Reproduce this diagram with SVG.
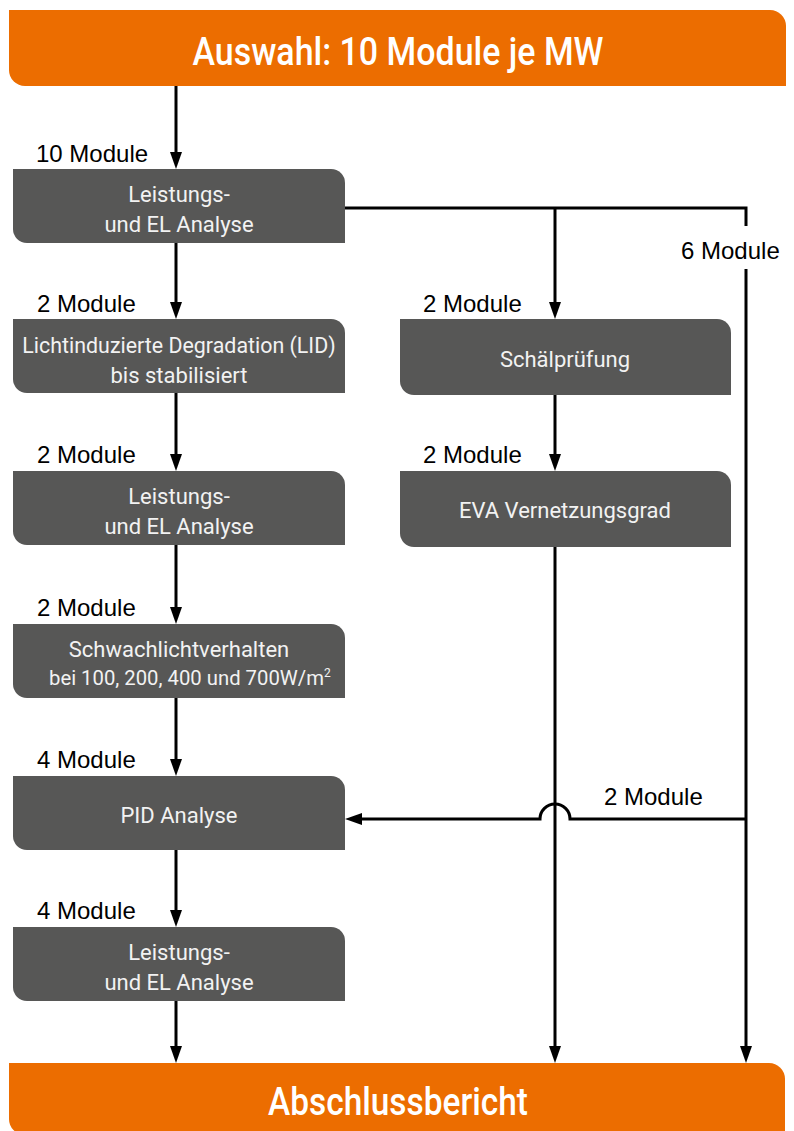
<svg xmlns="http://www.w3.org/2000/svg" width="794" height="1131" viewBox="0 0 794 1131">
<defs>
<style>
.bar{fill:#ec6d00}
.box{fill:#575756}
.bt{font-family:Roboto,"Liberation Sans",sans-serif;font-size:22px;fill:#f2f2f2;text-anchor:middle}
.ht{font-family:Roboto,"Liberation Sans",sans-serif;font-weight:500;font-size:39px;fill:#ffffff;text-anchor:middle}
.lb{font-family:"Liberation Sans",Arial,sans-serif;font-size:24px;fill:#000000}
.cn{fill:none;stroke:#000000;stroke-width:3}
</style>
<marker id="ah" viewBox="0 0 17 12" refX="9" refY="6" markerWidth="17" markerHeight="12" markerUnits="userSpaceOnUse" orient="auto">
<path d="M0,0 L17,6 L0,12 Z" fill="#000000"/>
</marker>
</defs>
<rect width="794" height="1131" fill="#ffffff"/>

<g id="connectors">
<path class="cn" d="M176,86 V161" marker-end="url(#ah)"/>
<path class="cn" d="M176,243 V311" marker-end="url(#ah)"/>
<path class="cn" d="M176,393 V463" marker-end="url(#ah)"/>
<path class="cn" d="M176,545 V616" marker-end="url(#ah)"/>
<path class="cn" d="M176,698 V768" marker-end="url(#ah)"/>
<path class="cn" d="M176,850 V919" marker-end="url(#ah)"/>
<path class="cn" d="M176,1001 V1055" marker-end="url(#ah)"/>
<path class="cn" d="M345,208 H746 V1055" marker-end="url(#ah)"/>
<path class="cn" d="M555,208 V311" marker-end="url(#ah)"/>
<path class="cn" d="M555,395 V463" marker-end="url(#ah)"/>
<path class="cn" d="M555,547 V1055" marker-end="url(#ah)"/>
<path class="cn" d="M746,819 H570 A15,15 0 0 0 540,819 H353" marker-end="url(#ah)"/>
</g>

<g id="labels">
<text class="lb" x="36" y="162">10 Module</text>
<rect x="678" y="226" width="106" height="43" fill="#ffffff"/>
<text class="lb" x="681" y="259">6 Module</text>
<text class="lb" x="37" y="312">2 Module</text>
<text class="lb" x="423" y="312">2 Module</text>
<text class="lb" x="37" y="463">2 Module</text>
<text class="lb" x="423" y="463">2 Module</text>
<text class="lb" x="37" y="616">2 Module</text>
<text class="lb" x="37" y="768">4 Module</text>
<text class="lb" x="604" y="805">2 Module</text>
<text class="lb" x="37" y="919">4 Module</text>
</g>

<g id="header">
<path class="bar" d="M9,10 H770 A16,16 0 0 1 786,26 V86 H25 A16,16 0 0 1 9,70 Z"/>
<text class="ht" x="398" y="65" textLength="411" lengthAdjust="spacingAndGlyphs">Auswahl: 10 Module je MW</text>
</g>

<g id="box1">
<path class="box" d="M13,169 H331 A14,14 0 0 1 345,183 V243 H27 A14,14 0 0 1 13,229 Z"/>
<text class="bt" x="179" y="202">Leistungs-</text>
<text class="bt" x="179" y="232">und EL Analyse</text>
</g>

<g id="box2">
<path class="box" d="M13,319 H331 A14,14 0 0 1 345,333 V393 H27 A14,14 0 0 1 13,379 Z"/>
<text class="bt" x="179" y="353" style="font-size:21.4px">Lichtinduzierte Degradation (LID)</text>
<text class="bt" x="179" y="383">bis stabilisiert</text>
</g>

<g id="box3">
<path class="box" d="M13,471 H331 A14,14 0 0 1 345,485 V545 H27 A14,14 0 0 1 13,531 Z"/>
<text class="bt" x="179" y="504">Leistungs-</text>
<text class="bt" x="179" y="534">und EL Analyse</text>
</g>

<g id="box4">
<path class="box" d="M13,624 H331 A14,14 0 0 1 345,638 V698 H27 A14,14 0 0 1 13,684 Z"/>
<text class="bt" x="179" y="657">Schwachlichtverhalten</text>
<text class="bt" x="49" y="685" style="font-size:20.3px;text-anchor:start">bei 100, 200, 400 und 700W/m<tspan font-size="12" dy="-8">2</tspan></text>
</g>

<g id="box5">
<path class="box" d="M13,776 H331 A14,14 0 0 1 345,790 V850 H27 A14,14 0 0 1 13,836 Z"/>
<text class="bt" x="179" y="823">PID Analyse</text>
</g>

<g id="box6">
<path class="box" d="M13,927 H331 A14,14 0 0 1 345,941 V1001 H27 A14,14 0 0 1 13,987 Z"/>
<text class="bt" x="179" y="960">Leistungs-</text>
<text class="bt" x="179" y="990">und EL Analyse</text>
</g>

<g id="box7">
<path class="box" d="M400,319 H717 A14,14 0 0 1 731,333 V395 H414 A14,14 0 0 1 400,381 Z"/>
<text class="bt" x="565" y="367">Schälprüfung</text>
</g>

<g id="box8">
<path class="box" d="M400,471 H717 A14,14 0 0 1 731,485 V547 H414 A14,14 0 0 1 400,533 Z"/>
<text class="bt" x="565" y="518">EVA Vernetzungsgrad</text>
</g>

<g id="footer">
<path class="bar" d="M9,1063 H769 A16,16 0 0 1 785,1079 V1135 H25 A16,16 0 0 1 9,1119 Z"/>
<text class="ht" x="398" y="1115" style="font-size:38px" textLength="260" lengthAdjust="spacingAndGlyphs">Abschlussbericht</text>
</g>
</svg>
